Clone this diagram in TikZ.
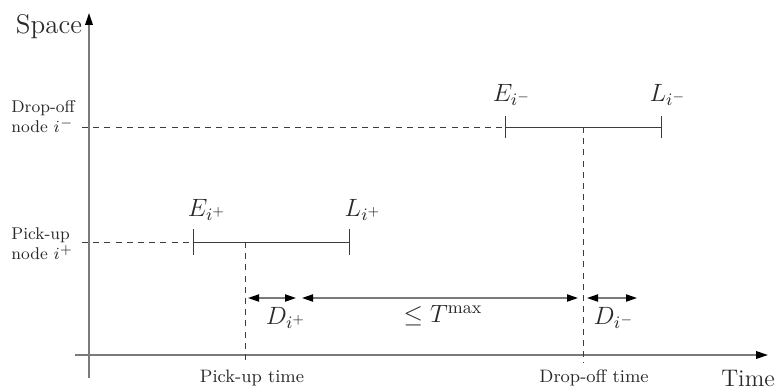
\RequirePackage{fix-cm}
\documentclass[tikz,border=0pt]{standalone}
\usepackage{fontspec}
\usetikzlibrary{arrows.meta}
\definecolor{axisgray}{HTML}{7A7A7A}
\definecolor{linegray}{HTML}{3C3C3C}
\definecolor{txt}{HTML}{2A2A2A}
\tikzset{
  axisline/.style={draw=axisgray, line width=0.8pt},
  ivline/.style={draw=linegray, line width=0.5pt},
  dashline/.style={draw=linegray, line width=0.5pt, dash pattern=on 3pt off 2.6pt},
  durarrow/.style={draw=axisgray, line width=0.7pt, {Triangle[length=5.5pt,width=3.6pt,color=black]}-{Triangle[length=5.5pt,width=3.6pt,color=black]}},
  axtip/.style={-{Triangle[length=6pt,width=3.8pt,color=black]}},
  sidelbl/.style={font=\fontsize{8.5}{10}\selectfont, text=txt, align=left, anchor=west, inner sep=0pt},
  timelbl/.style={font=\fontsize{9}{11}\selectfont, text=txt, inner sep=0pt},
  mathlbl/.style={font=\fontsize{12.5}{14}\selectfont, text=txt, inner sep=0pt},
  axlbl/.style={text=txt, inner sep=0pt}
}
\begin{document}
\begin{tikzpicture}[x=0.5pt,y=-0.5pt]
\useasboundingbox (0,0) rectangle (779,390);
% axes
\coordinate (xo) at (75,355);
\coordinate (xe) at (768,355);
\coordinate (yo) at (89,378);
\coordinate (ye) at (89,13);
\draw[axisline,axtip] (xo) -- (xe);
\draw[axisline,axtip] (yo) -- (ye);
\node[axlbl, font=\fontsize{13.5}{15}\selectfont] (space) at (49,27) {Space};
\node[axlbl, font=\fontsize{12}{14}\selectfont] (time) at (748,378) {Time};
% side labels
\node[sidelbl] (dropnode) at (11,117) {Drop-off\\node $i^{-}$};
\node[sidelbl] (picknode) at (11,244) {Pick-up\\node $i^{+}$};
% drop-off interval
\coordinate (dstart) at (82,127);
\coordinate (Em) at (505,127);
\coordinate (Lm) at (661,127);
\coordinate (dtime) at (583,127);
\draw[dashline] (dstart) -- (Em);
\draw[ivline] (Em) -- (Lm);
\draw[ivline] ([yshift=5.5pt]Em) -- ([yshift=-5.5pt]Em);
\draw[ivline] ([yshift=5.5pt]Lm) -- ([yshift=-5.5pt]Lm);
\node[mathlbl] (Eml) at (512,95) {$E_{i^-}$};
\node[mathlbl] (Lml) at (668,95) {$L_{i^-}$};
% pick-up interval
\coordinate (pstart) at (82,242);
\coordinate (Ep) at (193,242);
\coordinate (Lp) at (349,242);
\coordinate (ptime) at (245,242);
\draw[dashline] (pstart) -- (Ep);
\draw[ivline] (Ep) -- (Lp);
\draw[ivline] ([yshift=6.5pt]Ep) -- ([yshift=-6.5pt]Ep);
\draw[ivline] ([yshift=6.5pt]Lp) -- ([yshift=-6.5pt]Lp);
\node[mathlbl] (Epl) at (207,210) {$E_{i^+}$};
\node[mathlbl] (Lpl) at (363,210) {$L_{i^+}$};
% vertical time lines
\coordinate (pbot) at (245,363);
\coordinate (dbot) at (583,363);
\draw[dashline] (ptime) -- (pbot);
\draw[dashline] (dtime) -- (dbot);
\node[timelbl] (pt) at (252,378) {Pick-up time};
\node[timelbl] (dt) at (594,378) {Drop-off time};
% duration arrows
\coordinate (a1) at (248,298); \coordinate (a2) at (296,298);
\coordinate (a3) at (302,298); \coordinate (a4) at (578,298);
\coordinate (a5) at (587,298); \coordinate (a6) at (637,298);
\draw[durarrow] (a1) -- (a2);
\draw[durarrow] (a3) -- (a4);
\draw[durarrow] (a5) -- (a6);
\node[mathlbl] (dp) at (286,318) {$D_{i^+}$};
\node[mathlbl] (tm) at (443,316) {$\leq T^{\max}$};
\node[mathlbl] (dm) at (614,318) {$D_{i^-}$};
\end{tikzpicture}
\end{document}
